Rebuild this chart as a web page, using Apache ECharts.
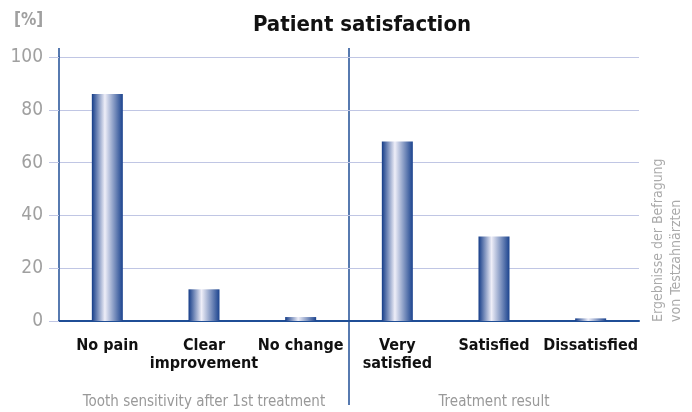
<!DOCTYPE html>
<html>
<head>
<meta charset="utf-8">
<script src="https://cdn.jsdelivr.net/npm/echarts@6/dist/echarts.min.js"></script>
<style>
  html, body { margin: 0; padding: 0; background: #fff; }
  #chart { width: 692px; height: 412px; }
</style>
</head>
<body>
<div id="chart"></div>
<script>
const categories = ["No pain", "Clear\nimprovement", "No change", "Very\nsatisfied", "Satisfied", "Dissatisfied"];
const values = [86, 12, 1.5, 68, 32, 1];
const groups = ["Tooth sensitivity after 1st treatment", "Treatment result"];
const yTicks = { min: 0, max: 100, interval: 20 };

const FONT = "'Liberation Sans Narrow', 'DejaVu Sans Condensed', 'Roboto', sans-serif";
const blue = "#1f4e96";

const chart = echarts.init(document.getElementById("chart"));

const barColor = new echarts.graphic.LinearGradient(0, 0, 1, 0, [
  { offset: 0, color: "#143c88" },
  { offset: 0.42, color: "#eeeef8" },
  { offset: 1, color: "#1b438e" }
]);

chart.setOption({
  animation: false,
  title: {
    text: "Patient satisfaction",
    left: 357,
    top: 9,
    textAlign: "center",
    textStyle: { fontFamily: FONT, fontSize: 22, fontWeight: "bold", color: "#111" }
  },
  grid: { left: 59, right: 53, top: 57, bottom: 91 },
  xAxis: [
    {
      type: "category",
      data: categories,
      axisLine: { lineStyle: { color: blue, width: 2 } },
      axisTick: { show: false },
      axisLabel: {
        interval: 0,
        margin: 16,
        fontFamily: FONT,
        fontSize: 16,
        fontWeight: "bold",
        color: "#111",
        lineHeight: 18
      }
    },
    {
      type: "category",
      data: groups,
      position: "bottom",
      offset: 66,
      axisLine: { show: false },
      axisTick: { show: false },
      axisLabel: { interval: 0, fontFamily: FONT, fontSize: 15, color: "#999" }
    }
  ],
  yAxis: {
    type: "value",
    min: yTicks.min,
    max: yTicks.max,
    interval: yTicks.interval,
    axisLine: { show: true, lineStyle: { color: blue, width: 1.5 } },
    axisTick: { show: true, length: 10, lineStyle: { color: "#c0c6e4" } },
    axisLabel: { margin: 16, fontFamily: FONT, fontSize: 19, color: "#a0a0a0" },
    splitLine: { lineStyle: { color: "#c0c6e4", width: 1.2 } }
  },
  series: [
    {
      type: "bar",
      data: values,
      barWidth: 31,
      itemStyle: { color: barColor }
    }
  ],
  graphic: [
    {
      type: "text",
      left: 14,
      top: 12,
      style: { text: "[%]", fontFamily: FONT, fontSize: 17, fontWeight: "bold", fill: "#a0a0a0" }
    },
    {
      type: "line",
      shape: { x1: 349, y1: 48, x2: 349, y2: 405 },
      style: { stroke: blue, lineWidth: 1.5 }
    },
    {
      type: "line",
      shape: { x1: 59, y1: 48, x2: 59, y2: 58 },
      style: { stroke: blue, lineWidth: 1.5 }
    },
    {
      type: "text",
      x: 649,
      y: 322,
      rotation: Math.PI / 2,
      style: {
        text: "Ergebnisse der Befragung\nvon Testzahnärzten",
        fontFamily: FONT,
        fontSize: 14,
        lineHeight: 18,
        fill: "#aaa",
        align: "left",
        verticalAlign: "top"
      }
    }
  ]
});
</script>
</body>
</html>
